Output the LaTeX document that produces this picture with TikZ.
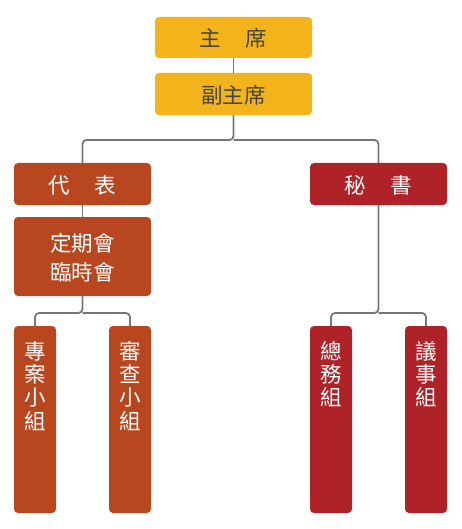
\documentclass[tikz,border=0pt]{standalone}
\usepackage{fontspec}
\setmainfont{Noto Sans CJK TC}
\definecolor{gold}{HTML}{F3B41B}
\definecolor{rust}{HTML}{B8471F}
\definecolor{crimson}{HTML}{AE2228}
\definecolor{linegray}{HTML}{777777}
\definecolor{darktext}{HTML}{444444}
\begin{document}
\begin{tikzpicture}[x=1pt,y=-1pt,
  box/.style={rounded corners=4pt},
  goldbox/.style={box, fill=gold},
  rustbox/.style={box, fill=rust},
  redbox/.style={box, fill=crimson},
  lbl/.style={inner sep=0pt, font=\fontsize{21.5}{23.3}\selectfont, align=center},
  conn/.style={draw=linegray, line width=1.8pt, rounded corners=4pt}]
\useasboundingbox (0,0) rectangle (462,529);
% boxes
\path[goldbox] (155,17) rectangle (312,58);
\node[lbl, text=darktext] (zx) at (233.5,38) {主\hspace{1.15em}席};
\path[goldbox] (155,73) rectangle (312,115);
\node[lbl, text=darktext] (fzx) at (233.5,95) {副主席};
\path[rustbox] (14,163) rectangle (151,205);
\node[lbl, text=white] (db) at (82.5,185) {代\hspace{1.15em}表};
\path[redbox] (310,163) rectangle (447,205);
\node[lbl, text=white] (ms) at (378.5,185) {秘\hspace{1.15em}書};
\path[rustbox] (14,217) rectangle (151,296);
\node[lbl, text=white, font=\fontsize{21.5}{29}\selectfont] (dq) at (82.5,258) {定期會\\臨時會};
\path[rustbox] (14,326) rectangle (56,513);
\path[rustbox] (109,326) rectangle (151,513);
\path[redbox] (310,326) rectangle (352,513);
\path[redbox] (405,326) rectangle (447,513);
\node[lbl, text=white, anchor=north] (za) at (35,341) {專\\案\\小\\組};
\node[lbl, text=white, anchor=north] (sc) at (130,341) {審\\查\\小\\組};
\node[lbl, text=white, anchor=north] (zw) at (331,341) {總\\務\\組};
\node[lbl, text=white, anchor=north] (ys) at (426,341) {議\\事\\組};
% connector anchors
\coordinate (a1) at (233.5,58);
\coordinate (a2) at (233.5,73);
\coordinate (b1) at (233.5,115);
\coordinate (b2) at (82.5,163);
\coordinate (b3) at (378.5,163);
\coordinate (c1) at (82.5,205);
\coordinate (c2) at (82.5,217);
\coordinate (d1) at (82.5,296);
\coordinate (d2) at (35,326);
\coordinate (d3) at (130,326);
\coordinate (e1) at (378.5,205);
\coordinate (e2) at (331,326);
\coordinate (e3) at (426,326);
\draw[conn] (a1) -- (a2);
\draw[conn] (b1) -- (233.5,140) -| (b2);
\draw[conn] (233.5,140) -| (b3);
\draw[conn] (c1) -- (c2);
\draw[conn] (d1) -- (82.5,313) -| (d2);
\draw[conn] (82.5,313) -| (d3);
\draw[conn] (e1) -- (378.5,313) -| (e2);
\draw[conn] (378.5,313) -| (e3);
\end{tikzpicture}
\end{document}
